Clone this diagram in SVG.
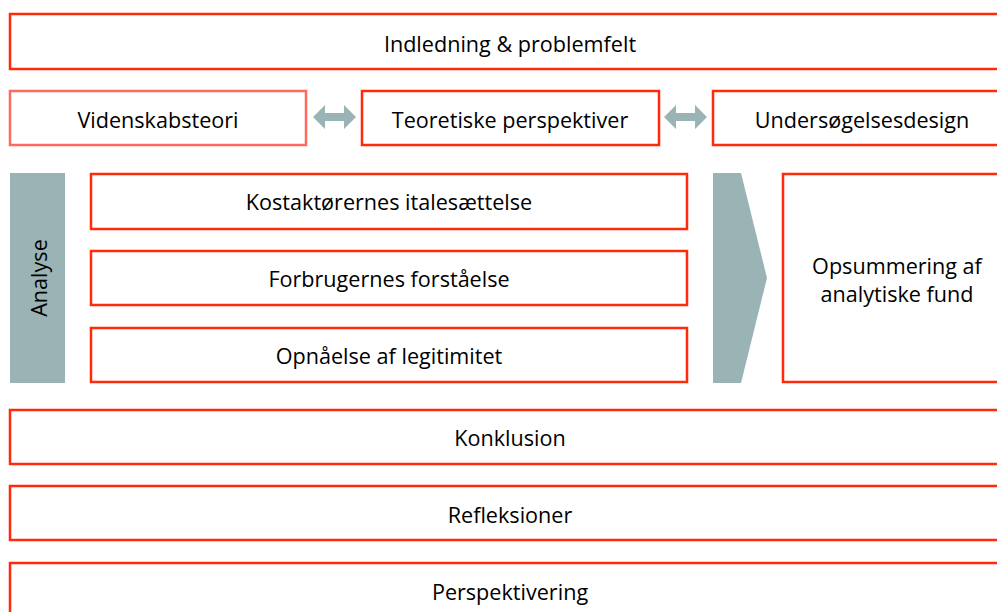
<svg xmlns="http://www.w3.org/2000/svg" width="997" height="612" viewBox="0 0 997 612">
  <defs>
    <style>
      .box { fill: #ffffff; stroke: #ff2a0a; stroke-width: 2.5; }
      .box-light { fill: #ffffff; stroke: #ff6a60; stroke-width: 2.5; }
      .grey { fill: #9ab3b5; }
      .label { font-family: "Open Sans", "Liberation Sans", Arial, sans-serif; font-size: 21.6px; fill: #000000; text-anchor: middle; }
    </style>
  </defs>
  <rect width="997" height="612" fill="#ffffff"/>

  <g id="indledning">
    <rect class="box" x="10" y="14" width="1002" height="55"/>
    <text class="label" x="510" y="52">Indledning &amp; problemfelt</text>
  </g>

  <g id="videnskabsteori">
    <rect class="box-light" x="10" y="91" width="296" height="54"/>
    <text class="label" x="158" y="128">Videnskabsteori</text>
  </g>
  <g id="teoretiske">
    <rect class="box" x="362" y="91" width="297" height="54"/>
    <text class="label" x="510" y="128">Teoretiske perspektiver</text>
  </g>
  <g id="undersoegelsesdesign">
    <rect class="box" x="713" y="91" width="300" height="54"/>
    <text class="label" x="862" y="128">Undersøgelsesdesign</text>
  </g>

  <g id="analyse">
    <rect class="grey" x="10" y="173" width="55" height="210"/>
    <text class="label" transform="translate(47 278) rotate(-90)">Analyse</text>
  </g>
  <g id="kostaktoerer">
    <rect class="box" x="91" y="174" width="596" height="55"/>
    <text class="label" x="389" y="210">Kostaktørernes italesættelse</text>
  </g>
  <g id="forbrugere">
    <rect class="box" x="91" y="251" width="596" height="54"/>
    <text class="label" x="389" y="287">Forbrugernes forståelse</text>
  </g>
  <g id="legitimitet">
    <rect class="box" x="91" y="328" width="596" height="54"/>
    <text class="label" x="389" y="364">Opnåelse af legitimitet</text>
  </g>

  <g id="chevron">
    <polygon class="grey" points="713,173 741,173 767,278 741,383 713,383"/>
  </g>
  <g id="opsummering">
    <rect class="box" x="783" y="174" width="230" height="208"/>
    <text class="label" x="897" y="274">Opsummering af</text>
    <text class="label" x="897" y="302">analytiske fund</text>
  </g>

  <g id="konklusion">
    <rect class="box" x="10" y="410" width="1002" height="54"/>
    <text class="label" x="510" y="446">Konklusion</text>
  </g>
  <g id="refleksioner">
    <rect class="box" x="10" y="486" width="1002" height="54"/>
    <text class="label" x="510" y="523">Refleksioner</text>
  </g>
  <g id="perspektivering">
    <rect class="box" x="10" y="563" width="1002" height="60"/>
    <text class="label" x="510" y="600">Perspektivering</text>
  </g>

  <g id="connectors">
    <polygon class="grey" points="313,117 325,105 325,113 344,113 344,105 356,117 344,129 344,121 325,121 325,129"/>
    <polygon class="grey" points="664,117 676,105 676,113 695,113 695,105 707,117 695,129 695,121 676,121 676,129"/>
  </g>
</svg>
